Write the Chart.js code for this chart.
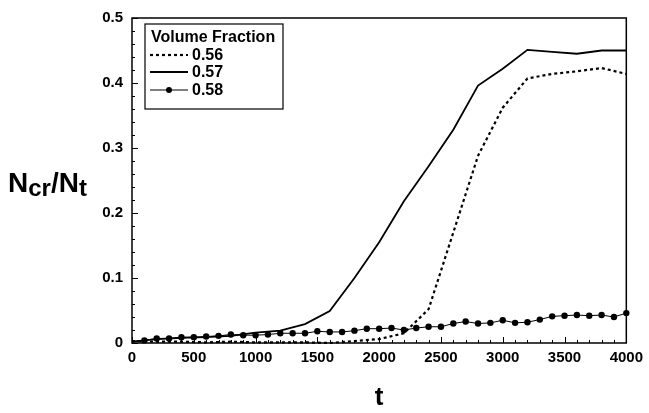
<!DOCTYPE html>
<html>
<head>
<meta charset="utf-8">
<script src="https://cdn.jsdelivr.net/npm/chart.js@4/dist/chart.umd.min.js"></script>
<style>
  html, body { margin: 0; padding: 0; background: #fff; }
  canvas { display: block; }
</style>
</head>
<body>
<canvas id="chart" width="649" height="413"></canvas>
<script>
// time steps for the two plain curves (every 200)
const tLine = [0, 200, 400, 600, 800, 1000, 1200, 1400, 1600, 1800, 2000,
  2200, 2400, 2600, 2800, 3000, 3200, 3400, 3600, 3800, 4000];
const vf056 = [0.003, 0.002, 0.002, 0.001, 0.002, 0.001, 0.001, 0.001, 0.000, 0.003, 0.006,
  0.015, 0.052, 0.170, 0.288, 0.362, 0.407, 0.414, 0.418, 0.423, 0.414];
const vf057 = [0.002, 0.006, 0.008, 0.009, 0.011, 0.016, 0.019, 0.029, 0.049, 0.100, 0.155,
  0.218, 0.272, 0.328, 0.396, 0.422, 0.451, 0.448, 0.445, 0.450, 0.450];

// time steps for the marked curve (every 100)
const tMarked = [0, 100, 200, 300, 400, 500, 600, 700, 800, 900, 1000,
  1100, 1200, 1300, 1400, 1500, 1600, 1700, 1800, 1900, 2000,
  2100, 2200, 2300, 2400, 2500, 2600, 2700, 2800, 2900, 3000,
  3100, 3200, 3300, 3400, 3500, 3600, 3700, 3800, 3900, 4000];
const vf058 = [0.002, 0.004, 0.007, 0.007, 0.009, 0.009, 0.010, 0.011, 0.013, 0.012, 0.012,
  0.013, 0.015, 0.015, 0.015, 0.018, 0.017, 0.017, 0.019, 0.022, 0.022,
  0.023, 0.020, 0.023, 0.025, 0.025, 0.030, 0.033, 0.030, 0.031, 0.035,
  0.031, 0.032, 0.036, 0.041, 0.042, 0.043, 0.042, 0.043, 0.040, 0.046];

const seriesLabels = ["0.56", "0.57", "0.58"];
const legendTitle = "Volume Fraction";
const xTicks = [0, 500, 1000, 1500, 2000, 2500, 3000, 3500, 4000];
const yTicks = [0, 0.1, 0.2, 0.3, 0.4, 0.5];

const FONT = "'Liberation Sans', Arial, sans-serif";

const pts = (xs, ys) => xs.map((x, i) => ({ x: x, y: ys[i] }));

// frame, inside ticks, axis titles and the boxed legend
const decorations = {
  id: "decorations",
  afterDatasetsDraw(chart) {
    const { ctx, chartArea: a, scales } = chart;
    const xs = scales.x, ys = scales.y;
    ctx.save();
    ctx.strokeStyle = "#000";
    ctx.lineWidth = 1;
    ctx.setLineDash([]);

    // inside ticks
    ctx.beginPath();
    for (let v = 0; v <= 4000; v += 100) {
      const px = Math.round(xs.getPixelForValue(v)) + 0.5;
      const len = v % 500 === 0 ? 6 : 3;
      ctx.moveTo(px, a.bottom);
      ctx.lineTo(px, a.bottom - len);
    }
    for (let k = 0; k <= 25; k++) {
      const py = Math.round(ys.getPixelForValue(k * 0.02)) + 0.5;
      const len = k % 5 === 0 ? 6 : 3;
      ctx.moveTo(a.left, py);
      ctx.lineTo(a.left + len, py);
    }
    ctx.stroke();

    // frame
    ctx.lineWidth = 1.5;
    ctx.strokeRect(a.left, a.top, a.right - a.left, a.bottom - a.top);

    // axis titles
    ctx.fillStyle = "#000";
    ctx.textBaseline = "alphabetic";
    ctx.textAlign = "left";
    let x = 8;
    const base = 192;
    const parts = [["N", 28, 0], ["cr", 24, 4], ["/N", 28, 0], ["t", 24, 4]];
    parts.forEach(([s, size, dy]) => {
      ctx.font = "bold " + size + "px " + FONT;
      ctx.fillText(s, x, base + dy);
      x += ctx.measureText(s).width;
    });
    ctx.font = "bold 26px " + FONT;
    ctx.textAlign = "center";
    ctx.fillText("t", (a.left + a.right) / 2, 405);

    // legend box
    const bx = 145, by = 24, bw = 138, bh = 85;
    ctx.fillStyle = "#fff";
    ctx.fillRect(bx, by, bw, bh);
    ctx.lineWidth = 1.2;
    ctx.strokeRect(bx, by, bw, bh);
    ctx.fillStyle = "#000";
    ctx.textAlign = "left";
    ctx.textBaseline = "middle";
    ctx.font = "bold 16px " + FONT;
    ctx.fillText(legendTitle, 151, 38);
    const rows = [55, 72, 90];
    chart.data.datasets.forEach((ds, i) => {
      const ry = rows[i];
      ctx.strokeStyle = ds.borderColor;
      ctx.lineWidth = ds.borderWidth;
      ctx.setLineDash(ds.borderDash || []);
      ctx.beginPath();
      ctx.moveTo(150, ry);
      ctx.lineTo(188, ry);
      ctx.stroke();
      ctx.setLineDash([]);
      if (ds.legendMarker) {
        ctx.beginPath();
        ctx.arc(169, ry, 3, 0, Math.PI * 2);
        ctx.fill();
      }
      ctx.fillText(ds.label, 192, ry + 1);
    });
    ctx.restore();
  },
};

new Chart(document.getElementById("chart"), {
  type: "line",
  data: {
    datasets: [
      {
        label: seriesLabels[0],
        data: pts(tLine, vf056),
        borderColor: "#000",
        borderWidth: 2.2,
        borderDash: [3, 3],
        pointRadius: 0,
        tension: 0,
      },
      {
        label: seriesLabels[1],
        data: pts(tLine, vf057),
        borderColor: "#000",
        borderWidth: 1.8,
        pointRadius: 0,
        tension: 0,
      },
      {
        label: seriesLabels[2],
        data: pts(tMarked, vf058),
        borderColor: "#000",
        borderWidth: 1,
        backgroundColor: "#000",
        pointRadius: (c) => (c.dataIndex === 0 ? 0 : 3.2),
        pointBorderWidth: 0,
        pointBackgroundColor: "#000",
        tension: 0,
        legendMarker: true,
      },
    ],
  },
  options: {
    responsive: false,
    devicePixelRatio: 1,
    animation: false,
    clip: false,
    layout: { padding: { left: 0, top: 11, right: 18, bottom: 0 } },
    plugins: {
      legend: { display: false },
      tooltip: { enabled: false },
    },
    scales: {
      x: {
        type: "linear",
        min: 0,
        max: 4000,
        afterBuildTicks: (s) => { s.ticks = xTicks.map((v) => ({ value: v })); },
        afterFit: (s) => { s.height = 70; },
        grid: { display: false, drawTicks: false },
        border: { display: false },
        ticks: {
          color: "#000",
          padding: 6,
          maxRotation: 0,
          callback: (v) => String(v),
          font: { family: FONT, size: 15, weight: "bold" },
        },
      },
      y: {
        min: 0,
        max: 0.5,
        afterBuildTicks: (s) => { s.ticks = yTicks.map((v) => ({ value: v })); },
        afterFit: (s) => { s.width = 132; },
        grid: { display: false, drawTicks: false },
        border: { display: false },
        ticks: {
          color: "#000",
          padding: 9,
          callback: (v) => String(v),
          font: { family: FONT, size: 15, weight: "bold" },
        },
      },
    },
  },
  plugins: [decorations],
});
</script>
</body>
</html>
